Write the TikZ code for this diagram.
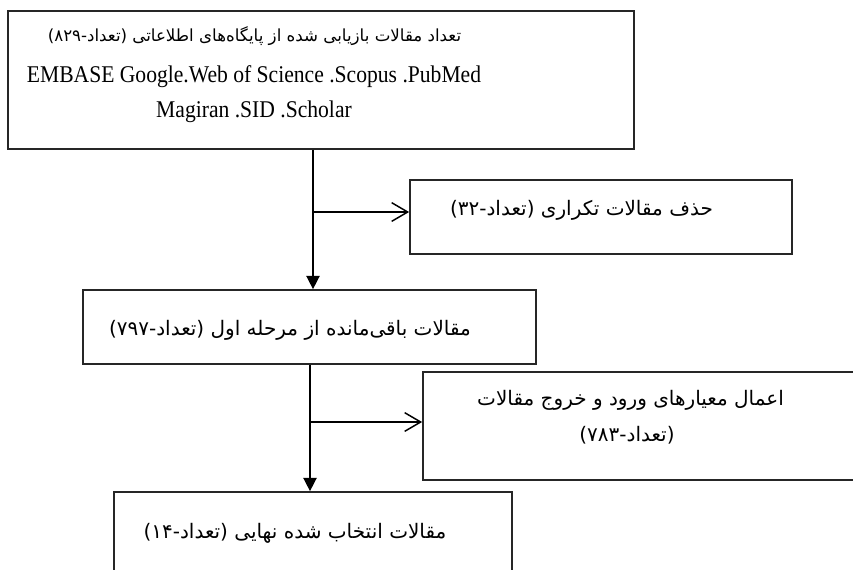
\documentclass[tikz,border=0pt]{standalone}
\usepackage{fontspec}
\usetikzlibrary{arrows.meta}
\setmainfont[FakeStretch=0.9]{Liberation Serif}
\newfontfamily\arabicfont[Script=Arabic]{DejaVu Sans}
\TeXXeTstate=1
\tikzset{
  boxnode/.style={draw=black!85, line width=1.3pt, rectangle, inner sep=0pt},
  fa/.style={font=\arabicfont\fontsize{15pt}{18pt}\selectfont, inner sep=0pt, anchor=center},
  fasmall/.style={font=\arabicfont\fontsize{12.5pt}{15pt}\selectfont, inner sep=0pt, anchor=center},
  en/.style={font=\fontsize{18pt}{20pt}\selectfont, inner sep=0pt, anchor=base},
  downarrow/.style={line width=1.1pt, -{Triangle[length=10pt,width=10pt]}},
  sidearrow/.style={line width=1.1pt, -{Straight Barb[length=12pt,width=14pt,line width=1.1pt]}}
}
\begin{document}
\begin{tikzpicture}[x=0.75pt,y=-0.75pt]
\useasboundingbox (0,0) rectangle (853,569);
\clip (0,0) rectangle (853,569);
% boxes
\node[boxnode, minimum width=469.5pt, minimum height=103.5pt] (b1) at (321,80) {};
\node[boxnode, minimum width=286.5pt, minimum height=55.5pt] (b2) at (601,217) {};
\node[boxnode, minimum width=339.75pt, minimum height=55.5pt] (b3) at (309.5,327) {};
\node[boxnode, minimum width=335.25pt, minimum height=81pt] (b4) at (646.5,426) {};
\node[boxnode, minimum width=298.5pt, minimum height=81pt] (b5) at (313,546) {};
% texts
\node[fasmall] (t1a) at (254.5,36) {\beginR تعداد مقالات بازیابی شده از پایگاه‌های اطلاعاتی (تعداد-۸۲۹)\endR};
\node[en] (t1b) at (254,82) {EMBASE Google.Web of Science .Scopus .PubMed};
\node[en] (t1c) at (254,117) {Magiran .SID .Scholar};
\node[fa] (t2) at (581.5,210) {\beginR حذف مقالات تکراری (تعداد-۳۲)\endR};
\node[fa] (t3) at (290,330) {\beginR مقالات باقی‌مانده از مرحله اول (تعداد-۷۹۷)\endR};
\node[fa] (t4a) at (630.5,400) {\beginR اعمال معیارهای ورود و خروج مقالات\endR};
\node[fa] (t4b) at (627,435) {\beginR (تعداد-۷۸۳)\endR};
\node[fa] (t5) at (295,533) {\beginR مقالات انتخاب شده نهایی (تعداد-۱۴)\endR};
% connectors
\coordinate (v1) at (313,0);
\coordinate (j1) at (313,212);
\coordinate (v2) at (310,0);
\coordinate (j2) at (310,422);
\draw[downarrow] (b1.south -| v1) -- (b3.north -| v1);
\draw[sidearrow] (j1) -- (j1 -| b2.west);
\draw[downarrow] (b3.south -| v2) -- (b5.north -| v2);
\draw[sidearrow] (j2) -- (j2 -| b4.west);
\end{tikzpicture}
\end{document}
